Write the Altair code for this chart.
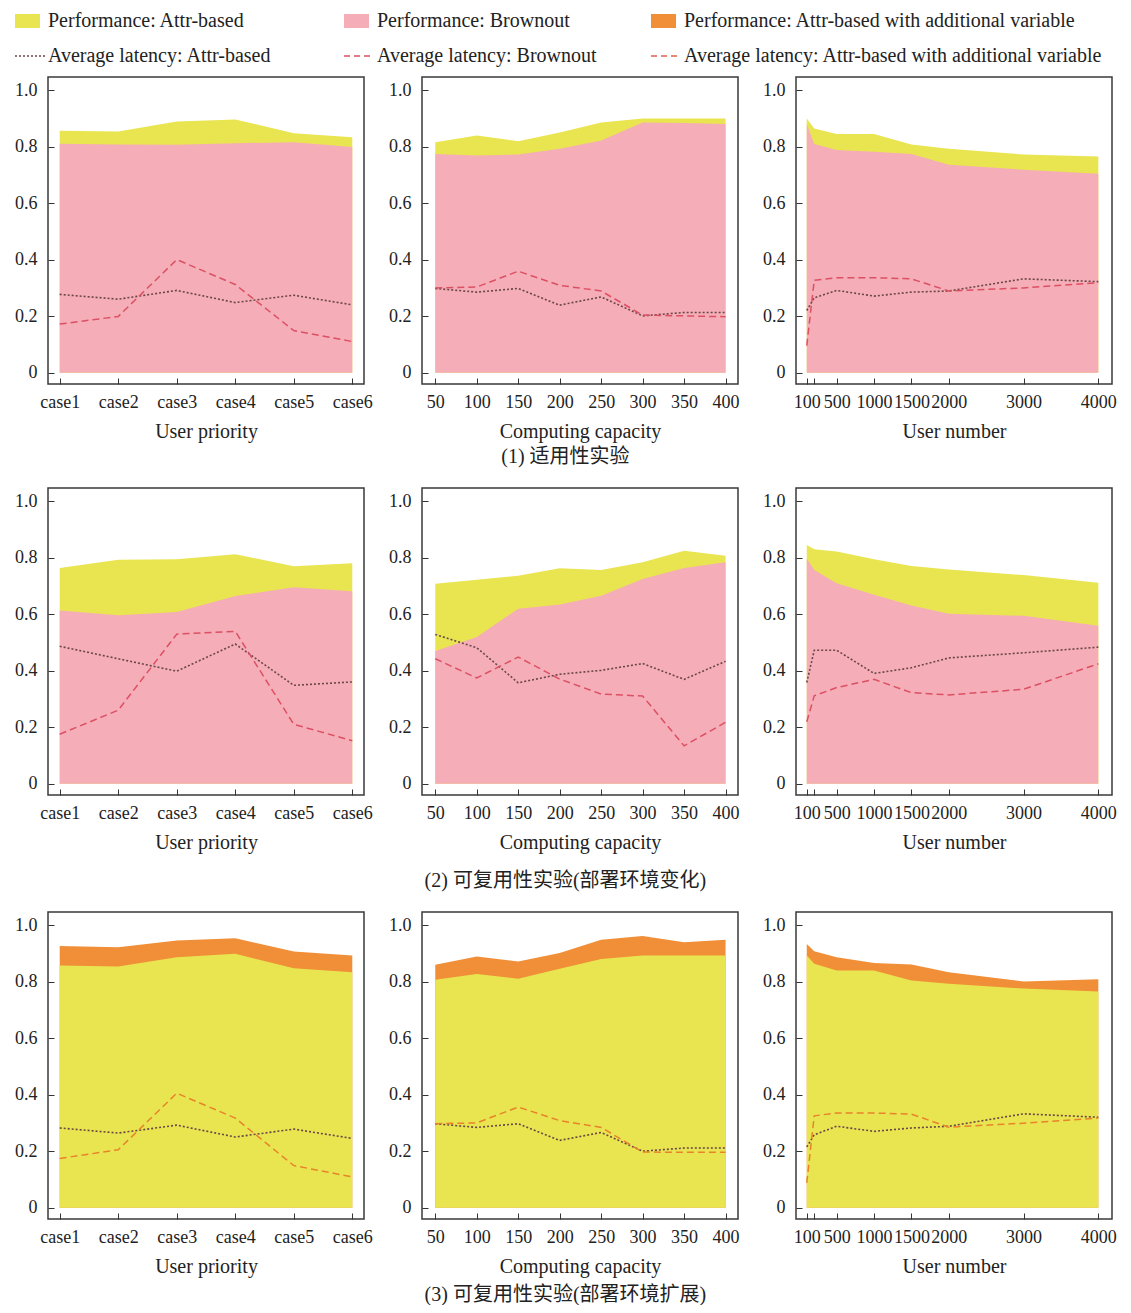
import altair as alt
import pandas as pd

FONT = "Liberation Serif"
CJK = "Liberation Serif, Noto Sans CJK SC"

YELLOW = "#E9E551"
PINK = "#F5ADB7"
ORANGE = "#F08F37"
DOT_C = "#6b4646"
DASH_RED = "#dc5064"
DASH_ORANGE = "#e8832a"
FRAME = "#3a3a3a"

# ---------------- x categories ----------------
cases = ["case1", "case2", "case3", "case4", "case5", "case6"]
capacity = [50, 100, 150, 200, 250, 300, 350, 400]
users = [100, 200, 500, 1000, 1500, 2000, 3000, 4000]
user_ticks = [100, 200, 500, 1000, 1500, 2000, 3000, 4000]
y_ticks = [0, 0.2, 0.4, 0.6, 0.8, 1.0]

# ---------------- row 1 : 适用性实验 ----------------
r1_up_attr_perf = [0.856, 0.853, 0.889, 0.896, 0.847, 0.833]
r1_up_brown_perf = [0.810, 0.807, 0.806, 0.812, 0.815, 0.798]
r1_up_attr_lat = [0.277, 0.260, 0.291, 0.248, 0.274, 0.240]
r1_up_brown_lat = [0.172, 0.199, 0.400, 0.312, 0.149, 0.110]

r1_cc_attr_perf = [0.815, 0.839, 0.819, 0.850, 0.885, 0.899, 0.899, 0.899]
r1_cc_brown_perf = [0.774, 0.768, 0.772, 0.792, 0.821, 0.885, 0.883, 0.880]
r1_cc_attr_lat = [0.298, 0.285, 0.298, 0.239, 0.268, 0.201, 0.213, 0.213]
r1_cc_brown_lat = [0.300, 0.303, 0.359, 0.309, 0.289, 0.204, 0.201, 0.198]

r1_un_attr_perf = [0.899, 0.864, 0.844, 0.844, 0.807, 0.792, 0.772, 0.765]
r1_un_brown_perf = [0.880, 0.809, 0.788, 0.782, 0.774, 0.736, 0.718, 0.704]
r1_un_attr_lat = [0.220, 0.265, 0.291, 0.271, 0.285, 0.289, 0.332, 0.322]
r1_un_brown_lat = [0.096, 0.327, 0.336, 0.336, 0.332, 0.289, 0.300, 0.318]

# ---------------- row 2 : 可复用性实验(部署环境变化) ----------------
r2_up_attr_perf = [0.763, 0.792, 0.794, 0.812, 0.769, 0.780]
r2_up_brown_perf = [0.613, 0.596, 0.607, 0.664, 0.695, 0.681]
r2_up_attr_lat = [0.486, 0.442, 0.398, 0.494, 0.348, 0.360]
r2_up_brown_lat = [0.175, 0.260, 0.529, 0.539, 0.210, 0.152]

r2_cc_attr_perf = [0.707, 0.721, 0.736, 0.762, 0.756, 0.783, 0.824, 0.806]
r2_cc_brown_perf = [0.469, 0.519, 0.619, 0.634, 0.665, 0.724, 0.763, 0.783]
r2_cc_attr_lat = [0.528, 0.481, 0.357, 0.387, 0.401, 0.425, 0.369, 0.433]
r2_cc_brown_lat = [0.442, 0.374, 0.448, 0.370, 0.317, 0.310, 0.134, 0.217]

r2_un_attr_perf = [0.844, 0.829, 0.821, 0.794, 0.770, 0.758, 0.738, 0.711]
r2_un_brown_perf = [0.797, 0.756, 0.709, 0.668, 0.630, 0.601, 0.594, 0.559]
r2_un_attr_lat = [0.358, 0.472, 0.472, 0.390, 0.410, 0.445, 0.463, 0.483]
r2_un_brown_lat = [0.219, 0.311, 0.340, 0.369, 0.322, 0.314, 0.334, 0.424]

# ---------------- row 3 : 可复用性实验(部署环境扩展) ----------------
r3_up_addvar_perf = [0.926, 0.921, 0.945, 0.953, 0.906, 0.892]
r3_up_attr_perf = [0.857, 0.853, 0.886, 0.898, 0.847, 0.833]
r3_up_attr_lat = [0.282, 0.264, 0.292, 0.250, 0.278, 0.245]
r3_up_addvar_lat = [0.174, 0.205, 0.405, 0.317, 0.149, 0.109]

r3_cc_addvar_perf = [0.859, 0.889, 0.871, 0.901, 0.948, 0.961, 0.939, 0.948]
r3_cc_attr_perf = [0.806, 0.827, 0.810, 0.845, 0.880, 0.892, 0.892, 0.892]
r3_cc_attr_lat = [0.297, 0.284, 0.297, 0.238, 0.266, 0.200, 0.211, 0.211]
r3_cc_addvar_lat = [0.297, 0.300, 0.356, 0.308, 0.284, 0.197, 0.196, 0.196]

r3_un_addvar_perf = [0.933, 0.907, 0.886, 0.866, 0.860, 0.833, 0.800, 0.808]
r3_un_attr_perf = [0.892, 0.863, 0.839, 0.839, 0.804, 0.792, 0.775, 0.765]
r3_un_attr_lat = [0.215, 0.258, 0.288, 0.270, 0.282, 0.288, 0.332, 0.320]
r3_un_addvar_lat = [0.088, 0.325, 0.335, 0.335, 0.331, 0.285, 0.299, 0.317]

# ---------------- legend ----------------
leg_labels = [
    "Performance: Attr-based",
    "Performance: Brownout",
    "Performance: Attr-based with additional variable",
    "Average latency: Attr-based",
    "Average latency: Brownout",
    "Average latency: Attr-based with additional variable",
]
leg_cols = [0, 1, 2, 0, 1, 2]
leg_rows = [0, 0, 0, 1, 1, 1]
leg_kinds = ["fill", "fill", "fill", "dot", "dash", "dash"]
leg_colors = [YELLOW, PINK, ORANGE, DOT_C, DASH_RED, "#e0604f"]

captions = ["(1) 适用性实验", "(2) 可复用性实验(部署环境变化)", "(3) 可复用性实验(部署环境扩展)"]

W, H = 316, 307
Y_DOMAIN = [-0.04, 1.046]
FRAME_VIEW = alt.ViewBackground(stroke=FRAME, strokeWidth=1.5)

base_axis = dict(
    domain=False, offset=-6, tickSize=6, tickColor="#333", tickWidth=1,
    labelFont=FONT, labelFontSize=18, labelColor="#222",
    titleFont=FONT, titleFontSize=20, titleFontWeight="normal", titleColor="#222",
    titlePadding=10, labelOverlap=False, labelBound=False, grid=False,
)
x_axis = dict(base_axis, labelPadding=9)
y_axis = dict(base_axis, labelPadding=11)


def x_encoding(kind):
    if kind == "up":
        return alt.X("x:N", sort=cases, scale=alt.Scale(padding=0.2),
                     axis=alt.Axis(labelAngle=0, **x_axis), title="User priority")
    if kind == "cc":
        return alt.X("x:Q", scale=alt.Scale(domain=[34, 415], nice=False, zero=False),
                     axis=alt.Axis(values=capacity, format="d", **x_axis),
                     title="Computing capacity")
    return alt.X("x:Q", scale=alt.Scale(domain=[-44, 4183], nice=False, zero=False),
                 axis=alt.Axis(values=user_ticks,
                               labelExpr="datum.value == 200 ? '' : format(datum.value, 'd')",
                               **x_axis),
                 title="User number")


def panel(kind, back, front, dotted, dashed, back_color, front_color, dash_color):
    xs = cases if kind == "up" else (capacity if kind == "cc" else users)
    df = pd.DataFrame({"x": xs, "back": back, "front": front, "dot": dotted, "dash": dashed})
    yscale = alt.Scale(domain=Y_DOMAIN, nice=False, zero=False)
    yaxis = alt.Axis(values=y_ticks,
                     labelExpr="datum.value == 0 ? '0' : format(datum.value, '.1f')",
                     **y_axis)
    base = alt.Chart(df)
    xe = x_encoding(kind)
    a1 = base.mark_area(color=back_color, opacity=1).encode(
        x=xe, y=alt.Y("back:Q", scale=yscale, axis=yaxis, title=None), y2=alt.datum(0))
    a2 = base.mark_area(color=front_color, opacity=1).encode(
        x=xe, y=alt.Y("front:Q", scale=yscale, title=None), y2=alt.datum(0))
    l1 = base.mark_line(color=DOT_C, strokeDash=[2, 2], strokeWidth=1.6).encode(
        x=xe, y=alt.Y("dot:Q", scale=yscale, title=None))
    l2 = base.mark_line(color=dash_color, strokeDash=[7, 4], strokeWidth=1.5).encode(
        x=xe, y=alt.Y("dash:Q", scale=yscale, title=None))
    return alt.layer(a1, a2, l1, l2).properties(width=W, height=H, view=FRAME_VIEW)


row_data = [
    [("up", r1_up_attr_perf, r1_up_brown_perf, r1_up_attr_lat, r1_up_brown_lat),
     ("cc", r1_cc_attr_perf, r1_cc_brown_perf, r1_cc_attr_lat, r1_cc_brown_lat),
     ("un", r1_un_attr_perf, r1_un_brown_perf, r1_un_attr_lat, r1_un_brown_lat)],
    [("up", r2_up_attr_perf, r2_up_brown_perf, r2_up_attr_lat, r2_up_brown_lat),
     ("cc", r2_cc_attr_perf, r2_cc_brown_perf, r2_cc_attr_lat, r2_cc_brown_lat),
     ("un", r2_un_attr_perf, r2_un_brown_perf, r2_un_attr_lat, r2_un_brown_lat)],
    [("up", r3_up_addvar_perf, r3_up_attr_perf, r3_up_attr_lat, r3_up_addvar_lat),
     ("cc", r3_cc_addvar_perf, r3_cc_attr_perf, r3_cc_attr_lat, r3_cc_addvar_lat),
     ("un", r3_un_addvar_perf, r3_un_attr_perf, r3_un_attr_lat, r3_un_addvar_lat)],
]
row_colors = [(YELLOW, PINK, DASH_RED), (YELLOW, PINK, DASH_RED), (ORANGE, YELLOW, DASH_ORANGE)]
caption_offsets = [5, 18, 8]

rows = []
for i, specs in enumerate(row_data):
    bc, fc, dc = row_colors[i]
    p = [panel(k, b, f, d1, d2, bc, fc, dc) for (k, b, f, d1, d2) in specs]
    rows.append(
        alt.hconcat(*p, spacing=58, bounds="flush").properties(
            title=alt.TitleParams(captions[i], orient="bottom", anchor="middle",
                                  font=CJK, fontSize=20, fontWeight="normal",
                                  color="#222", offset=caption_offsets[i])
        )
    )

body = alt.vconcat(*rows, spacing=20)

# ---------------- legend chart ----------------
leg_df = pd.DataFrame({"label": leg_labels, "col": leg_cols, "row": leg_rows, "kind": leg_kinds})
lx = alt.X("col:Q", scale=alt.Scale(domain=[0, 1, 2], range=[-33, 296, 603]), axis=None)
ly = alt.Y("row:Q", scale=alt.Scale(domain=[0, 1], range=[0, 35]), axis=None)
lcolor = alt.Color("label:N", scale=alt.Scale(domain=leg_labels, range=leg_colors), legend=None)
lbase = alt.Chart(leg_df)
swatch = lbase.transform_filter(alt.datum.kind == "fill").mark_rect(
    x2Offset=25, yOffset=-7, y2Offset=7).encode(
    x=lx, x2=alt.X2("col"), y=ly, y2=alt.Y2("row"), color=lcolor)
dots = lbase.transform_filter(alt.datum.kind == "dot").mark_rule(
    x2Offset=31, strokeDash=[2, 2], strokeWidth=1.5).encode(
    x=lx, x2=alt.X2("col"), y=ly, color=lcolor)
dashes = lbase.transform_filter(alt.datum.kind == "dash").mark_rule(
    x2Offset=29, strokeDash=[6, 4], strokeWidth=1.5).encode(
    x=lx, x2=alt.X2("col"), y=ly, color=lcolor)
texts = lbase.mark_text(align="left", baseline="middle", dx=33, font=FONT,
                        fontSize=20, color="#222").encode(x=lx, y=ly, text="label:N")
legend = alt.layer(swatch, dots, dashes, texts).properties(
    width=1060, height=40, view=alt.ViewBackground(strokeOpacity=0))

chart = alt.vconcat(legend, body, spacing=10).properties(
    padding={"left": 5, "right": 0, "top": 3, "bottom": 0}
).configure(background="white")

chart.save("out.html", embed_options={"renderer": "svg", "actions": False})
